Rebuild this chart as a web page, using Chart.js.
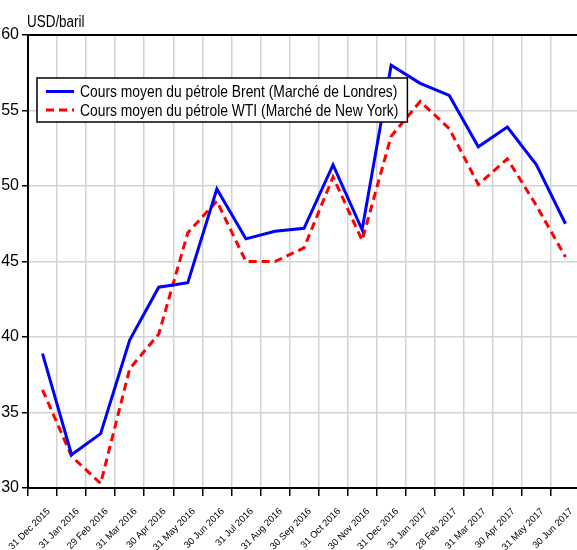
<!DOCTYPE html>
<html>
<head>
<meta charset="utf-8">
<script src="https://cdn.jsdelivr.net/npm/chart.js@4"></script>
<style>
  html, body { margin: 0; padding: 0; overflow: hidden; background: #fff; }
  #wrap { width: 577px; height: 550px; overflow: hidden; }
</style>
</head>
<body>
<div id="wrap"><canvas id="chart" width="580" height="550"></canvas></div>
<script>
const FONT = '"Liberation Sans", Arial, sans-serif';
const SQUEEZE = 0.84; // the reference text looks like a narrow Arial

const months = ['31 Dec 2015', '31 Jan 2016', '29 Feb 2016', '31 Mar 2016', '30 Apr 2016', '31 May 2016',
    '30 Jun 2016', '31 Jul 2016', '31 Aug 2016', '30 Sep 2016', '31 Oct 2016', '30 Nov 2016',
    '31 Dec 2016', '31 Jan 2017', '28 Feb 2017', '31 Mar 2017', '30 Apr 2017', '31 May 2017', '30 Jun 2017'];

const brent = [38.9, 32.2, 33.6, 39.8, 43.3, 43.6, 49.8, 46.5, 47.0, 47.2, 51.4, 47.1,
    58.0, 56.8, 56.0, 52.6, 53.9, 51.4, 47.5];

const wti = [36.5, 32.1, 30.3, 37.9, 40.2, 46.9, 49.0, 45.0, 45.0, 45.9, 50.6, 46.4,
    53.3, 55.6, 53.8, 50.1, 51.8, 48.7, 45.3];

const yMin = 30, yMax = 60, yStep = 5;
const unitLabel = 'USD/baril';
const brentLabel = 'Cours moyen du pétrole Brent (Marché de Londres)';
const wtiLabel = 'Cours moyen du pétrole WTI (Marché de New York)';

function narrowText(ctx, text, x, y) {
    ctx.save();
    ctx.translate(x, y);
    ctx.scale(SQUEEZE, 1);
    ctx.fillText(text, 0, 0);
    ctx.restore();
}

// draws the unit text, the top frame line and the boxed legend
const extras = {
    id: 'extras',
    afterDraw(chart) {
        const ctx = chart.ctx;
        const area = chart.chartArea;
        ctx.save();

        // top frame
        ctx.strokeStyle = '#000';
        ctx.lineWidth = 2;
        ctx.beginPath();
        ctx.moveTo(area.left, area.top);
        ctx.lineTo(area.right, area.top);
        ctx.stroke();

        // unit
        ctx.fillStyle = '#000';
        ctx.font = '16px ' + FONT;
        ctx.textBaseline = 'alphabetic';
        ctx.textAlign = 'left';
        narrowText(ctx, unitLabel, area.left - 1, area.top - 8);

        // legend
        ctx.font = '16.5px ' + FONT;
        const sets = chart.data.datasets;
        const textW = SQUEEZE * Math.max(...sets.map(d => ctx.measureText(d.label).width));
        const boxX = area.left + 9, boxY = area.top + 43;
        const boxW = 9 + 28 + 6 + textW + 9, boxH = 44;
        ctx.fillStyle = '#fff';
        ctx.fillRect(boxX, boxY, boxW, boxH);
        ctx.strokeStyle = '#000';
        ctx.lineWidth = 1.5;
        ctx.strokeRect(boxX, boxY, boxW, boxH);

        sets.forEach((d, i) => {
            const y = boxY + 13.5 + i * 18.5;
            ctx.strokeStyle = d.borderColor;
            ctx.lineWidth = 3;
            ctx.setLineDash(d.borderDash || []);
            ctx.beginPath();
            ctx.moveTo(boxX + 9, y);
            ctx.lineTo(boxX + 37, y);
            ctx.stroke();
            ctx.setLineDash([]);
            ctx.fillStyle = '#000';
            ctx.textBaseline = 'middle';
            narrowText(ctx, d.label, boxX + 43, y + 1);
        });
        ctx.restore();
    }
};

const ctx = document.getElementById('chart').getContext('2d');
new Chart(ctx, {
    type: 'line',
    data: {
        labels: months,
        datasets: [{
            label: brentLabel,
            data: brent,
            borderColor: '#0000ff',
            borderWidth: 3,
            pointRadius: 0,
            tension: 0,
            fill: false
        }, {
            label: wtiLabel,
            data: wti,
            borderColor: '#ff0000',
            borderWidth: 3,
            borderDash: [8, 5],
            pointRadius: 0,
            tension: 0,
            fill: false
        }]
    },
    options: {
        responsive: false,
        animation: false,
        layout: { padding: { top: 35, left: 0, right: 0, bottom: 0 } },
        plugins: {
            legend: { display: false },
            tooltip: { enabled: false }
        },
        scales: {
            x: {
                offset: true,
                grid: {
                    offset: true,
                    color: '#d3d3d3',
                    tickColor: '#000',
                    lineWidth: 1.5,
                    tickLength: 8,
                    tickWidth: 1.5
                },
                border: { color: '#000', width: 2 },
                ticks: {
                    autoSkip: false,
                    maxRotation: 45,
                    minRotation: 45,
                    padding: 10,
                    labelOffset: 6,
                    color: '#000',
                    font: { family: FONT, size: 9.5 }
                },
                afterFit(scale) {
                    scale.height = 62;
                    scale.paddingLeft = 0;
                    scale.paddingRight = 0;
                }
            },
            y: {
                min: yMin,
                max: yMax,
                grid: {
                    color: '#d3d3d3',
                    tickColor: '#000',
                    lineWidth: 1.5,
                    tickLength: 6,
                    tickWidth: 1.5
                },
                border: { color: '#000', width: 2 },
                ticks: {
                    stepSize: yStep,
                    padding: 3,
                    color: '#000',
                    font: { family: FONT, size: 16 }
                },
                afterFit(scale) { scale.width = 28; }
            }
        }
    },
    plugins: [extras]
});
</script>
</body>
</html>
